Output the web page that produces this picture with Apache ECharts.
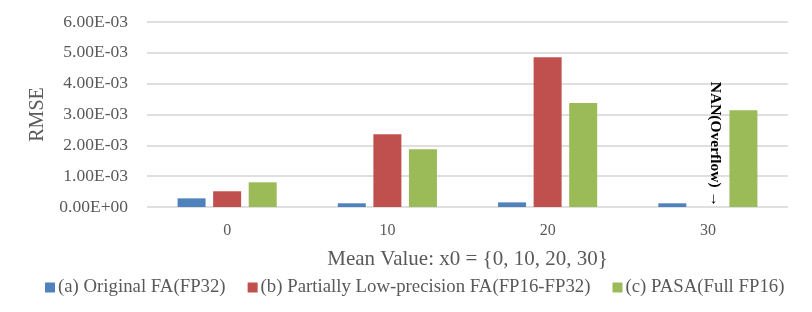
<!DOCTYPE html>
<html>
<head>
<meta charset="utf-8">
<script src="https://cdn.jsdelivr.net/npm/echarts@6/dist/echarts.min.js"></script>
<style>html,body{margin:0;padding:0;background:#fff}#c{width:812px;height:312px}</style>
</head>
<body>
<div id="c"></div>
<script>
var categories = ['0', '10', '20', '30'];
var seriesNames = ['(a) Original FA(FP32)', '(b) Partially Low-precision FA(FP16-FP32)', '(c) PASA(Full FP16)'];
var originalFA = [0.00028, 0.00012, 0.00015, 0.00012];
var partialFA = [0.00051, 0.00236, 0.00486, null];
var pasa = [0.00080, 0.00187, 0.00337, 0.00314];
var yTickLabels = ['0.00E+00', '1.00E-03', '2.00E-03', '3.00E-03', '4.00E-03', '5.00E-03', '6.00E-03'];
var nanLabel = 'NAN(Overflow) \u2192';

var font = '"Liberation Serif", "Times New Roman", serif';
var txt = '#595959';
var chart = echarts.init(document.getElementById('c'), null, {renderer: 'canvas'});
chart.setOption({
  animation: false,
  textStyle: {fontFamily: font},
  grid: {left: 147, right: 24, top: 22, bottom: 105, containLabel: false},
  xAxis: {
    type: 'category',
    data: categories,
    axisLine: {show: false},
    axisTick: {show: false},
    axisLabel: {color: txt, fontFamily: font, fontSize: 16, margin: 16},
    name: 'Mean Value: x0 = {0, 10, 20, 30}',
    nameLocation: 'middle',
    nameGap: 42,
    nameTextStyle: {color: txt, fontFamily: font, fontSize: 21}
  },
  yAxis: {
    type: 'value',
    min: 0, max: 0.006, interval: 0.001,
    axisLine: {show: false},
    axisTick: {show: false},
    splitLine: {lineStyle: {color: '#d4d4d4', width: 1.5}},
    axisLabel: {
      color: txt, fontFamily: font, fontSize: 17.5, margin: 19,
      formatter: function (v) { return yTickLabels[Math.round(v / 0.001)]; }
    },
    name: 'RMSE',
    nameLocation: 'middle',
    nameGap: 99,
    nameTextStyle: {color: txt, fontFamily: font, fontSize: 20}
  },
  legend: {
    bottom: 10,
    left: 40,
    itemWidth: 10, itemHeight: 10, itemGap: 22,
    icon: 'rect',
    textStyle: {color: txt, fontFamily: font, fontSize: 18.8, padding: [0, 0, 0, -2]},
    data: seriesNames
  },
  series: [
    {name: seriesNames[0], type: 'bar', data: originalFA, barWidth: 28, barGap: '27%', itemStyle: {color: '#4f81bd'}},
    {name: seriesNames[1], type: 'bar', data: partialFA, barWidth: 28, barGap: '27%', itemStyle: {color: '#c0504d'},
      markPoint: {
        symbol: 'rect', symbolSize: 0,
        data: [{coord: ['30', 0]}],
        label: {
          show: true, formatter: nanLabel, position: 'inside',
          rotate: -90, align: 'right', verticalAlign: 'middle', offset: [0, -7],
          color: '#000', fontFamily: font, fontWeight: 'bold', fontSize: 15.5
        }
      }
    },
    {name: seriesNames[2], type: 'bar', data: pasa, barWidth: 28, barGap: '27%', itemStyle: {color: '#9bbb59'}}
  ]
});
</script>
</body>
</html>
